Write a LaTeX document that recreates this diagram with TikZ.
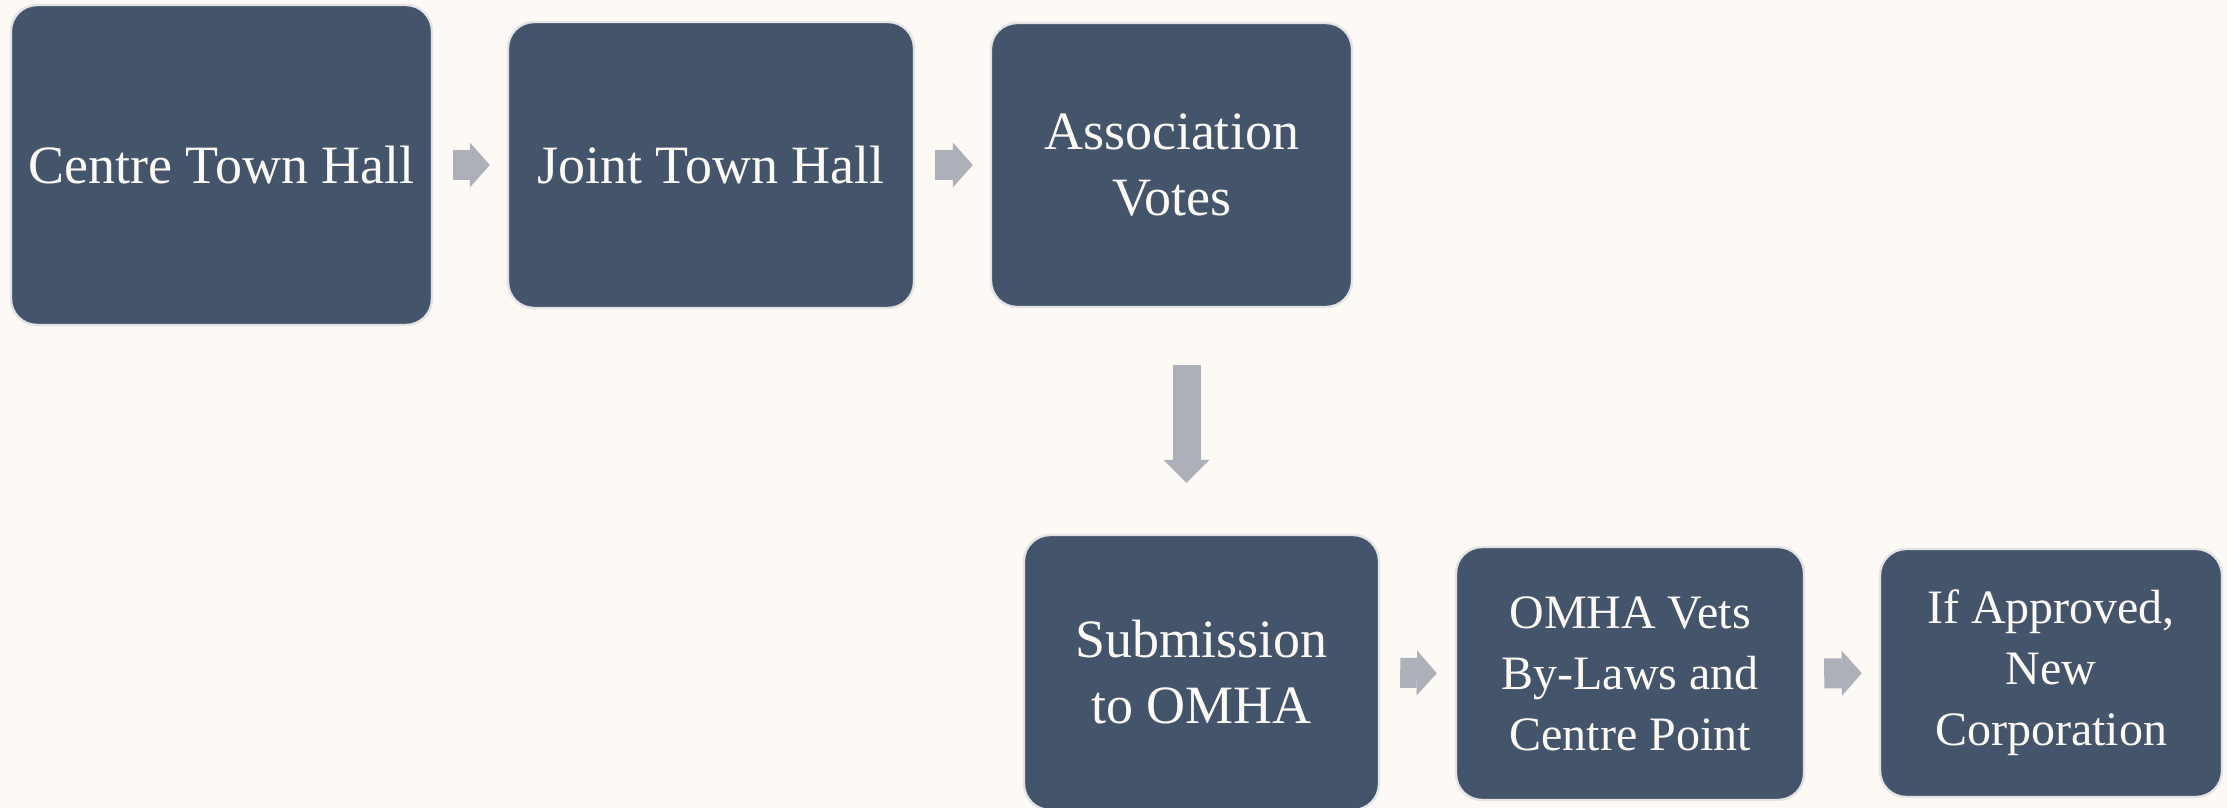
\documentclass[tikz,border=0pt]{standalone}
\usepackage{fontspec}
\setmainfont{Liberation Serif}
\usetikzlibrary{arrows.meta,calc}
\definecolor{paper}{HTML}{FDFAF5}
\definecolor{slate}{HTML}{44546A}
\definecolor{rim}{HTML}{E4E4E6}
\definecolor{pointer}{HTML}{ADB0B8}
\begin{document}
\begin{tikzpicture}[x=0.5pt,y=-0.5pt,
	stage/.style={draw=rim, line width=1.2pt, fill=slate, text=paper, rounded corners=13pt,
		align=center, inner sep=0pt, font=\fontsize{27}{33}\selectfont},
	smaller/.style={font=\fontsize{24}{30.5}\selectfont},
	flow/.style={draw=pointer, line width=15pt,
		-{Triangle[length=10pt, width=22.5pt, line width=0pt]}}]
\useasboundingbox (0,0) rectangle (2227,808);
\fill[paper] (0,0) rectangle (2227,808);
% top row
\node[stage, minimum width=210.5pt, minimum height=160pt] (ctown) at (221.5,165) {Centre Town Hall};
\node[stage, minimum width=203pt, minimum height=143pt] (jtown) at (711,165) {Joint Town Hall};
\node[stage, minimum width=180.5pt, minimum height=142pt] (votes) at (1171.5,165) {Association\\Votes};
% bottom row
\node[stage, minimum width=177.5pt, minimum height=137.5pt] (omha) at (1201.5,672.5) {Submission\\to OMHA};
\node[stage, smaller, minimum width=174pt, minimum height=126.5pt] (vets) at (1630,673.5) {OMHA Vets\\By-Laws and\\Centre Point};
\node[stage, smaller, minimum width=171pt, minimum height=124pt] (corp) at (2051,673) {If Approved,\\New\\Corporation};
\draw[flow, shorten <=10pt, shorten >=8.5pt] (ctown.east) -- (jtown.west);
\draw[flow, shorten <=10pt, shorten >=8.5pt] (jtown.east) -- (votes.west);
\coordinate (mid) at ($(votes.south)!0.5!(omha.north)$);
\draw[flow, line width=14pt, shorten <=28.5pt, shorten >=25.5pt,
	-{Triangle[length=11.5pt, width=23pt, line width=0pt]}] (mid |- votes.south) -- (mid |- omha.north);
\draw[flow, shorten <=10pt, shorten >=9pt] (omha.east) -- (vets.west);
\draw[flow, shorten <=9.5pt, shorten >=8.5pt] (vets.east) -- (corp.west);
\end{tikzpicture}
\end{document}
